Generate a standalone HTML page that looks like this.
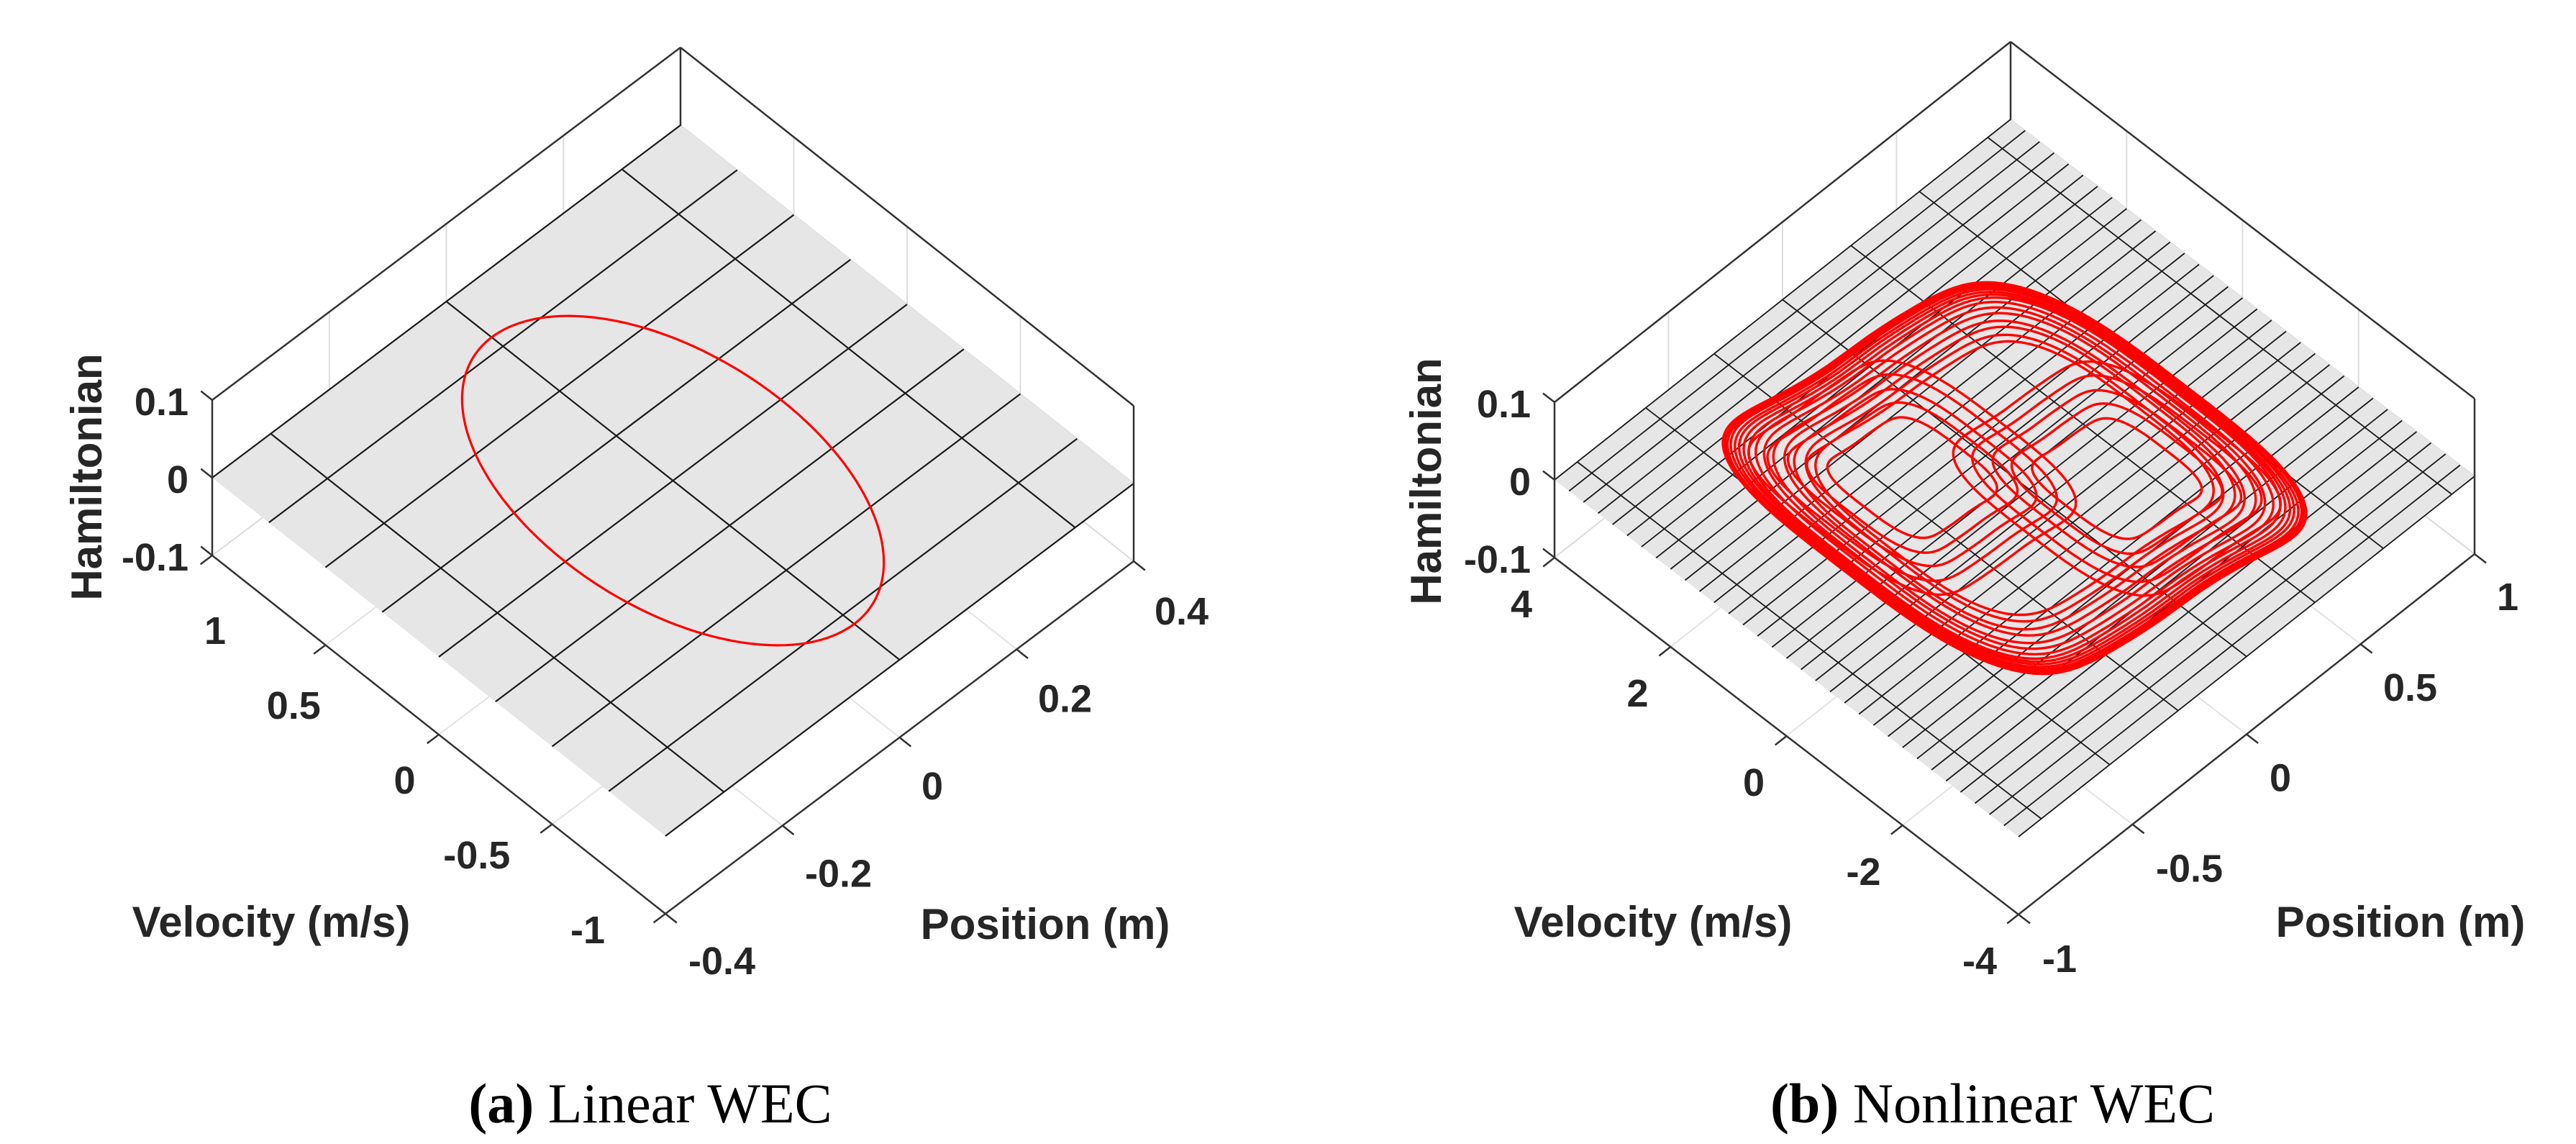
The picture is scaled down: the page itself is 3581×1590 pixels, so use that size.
<!DOCTYPE html>
<html><head><meta charset="utf-8"><style>
html,body{margin:0;padding:0;background:#fff;}
svg{display:block;}
.tk{font-family:"Liberation Sans",Arial,sans-serif;font-weight:bold;font-size:54px;fill:#262626;}
.al{font-family:"Liberation Sans",Arial,sans-serif;font-weight:bold;font-size:60px;fill:#262626;}
.cap{font-family:"Liberation Serif",serif;font-size:78px;fill:#000;}
</style></head><body>
<svg id="fig" width="3581" height="1590" viewBox="0 0 3581 1590" xmlns="http://www.w3.org/2000/svg">
<g id="pa"></g>
<g id="pb"></g>
<text class="cap" x="904" y="1560" text-anchor="middle"><tspan font-weight="bold">(a)</tspan> Linear WEC</text>
<text class="cap" x="2770" y="1560" text-anchor="middle"><tspan font-weight="bold">(b)</tspan> Nonlinear WEC</text>
</svg>
<script>
// ---- data: linear plot ----
const aPosTicks=[-0.4,-0.2,0,0.2,0.4];
const aVelTicks=[-1,-0.5,0,0.5,1];
const aHamTicks=[-0.1,0,0.1];
const aMeshP=[-0.3,0,0.3];
const aMeshV=[-1,-0.75,-0.5,-0.25,0,0.25,0.5,0.75,1];
const aOrbitPosAmp=[0.184];
const aOrbitVelAmp=[0.80];
// ---- data: nonlinear plot ----
const bPosTicks=[-1,-0.5,0,0.5,1];
const bVelTicks=[-4,-2,0,2,4];
const bHamTicks=[-0.1,0,0.1];
const bMeshP=[-0.9,-0.6,-0.3,0,0.3,0.6,0.9];
const bMeshV=[-4,-3.75,-3.5,-3.25,-3,-2.75,-2.5,-2.25,-2,-1.75,-1.5,-1.25,-1,-0.75,-0.5,-0.25,0,0.25,0.5,0.75,1,1.25,1.5,1.75,2,2.25,2.5,2.75,3,3.25,3.5,3.75,4];
const bLoopCenterP=[0,0,0,0,0,0,0,0,0,0,0,0,0,0,0,0.22,0.22,0.22,0.22,0.22,-0.22,-0.22,-0.22,-0.22,-0.22];
const bLoopCenterV=[0,0,0,0,0,0,0,0,0,0,0,0,0,0,0,-0.9,-0.9,-0.9,-0.9,-0.9,0.9,0.9,0.9,0.9,0.9];
const bLoopPosAmp=[0.76,0.755,0.75,0.74,0.73,0.72,0.71,0.70,0.68,0.66,0.64,0.61,0.59,0.56,0.54,0.39,0.35,0.3,0.26,0.21,0.39,0.35,0.3,0.26,0.21];
const bLoopVelAmp=[3.25,3.22,3.19,3.16,3.11,3.06,3.0,2.93,2.86,2.76,2.64,2.52,2.39,2.26,2.13,1.97,1.72,1.48,1.23,0.99,1.97,1.72,1.48,1.23,0.99];
const bLoopHam=[-0.06,-0.059,-0.058,-0.057,-0.055,-0.054,-0.052,-0.05,-0.048,-0.046,-0.043,-0.041,-0.038,-0.036,-0.034,-0.02,-0.018,-0.016,-0.013,-0.011,-0.02,-0.018,-0.016,-0.013,-0.011];

const NS='http://www.w3.org/2000/svg';
function mk(parent,tag,attrs){const e=document.createElementNS(NS,tag);for(const k in attrs)e.setAttribute(k,attrs[k]);parent.appendChild(e);return e;}
function fmt(v){return v<0?'-'+String(Math.abs(v)):String(v);}

function plot(g,cfg){
  const P=(p,v,z)=>{const fp=(p-cfg.pmin)/(cfg.pmax-cfg.pmin),fv=(v-cfg.vmin)/(cfg.vmax-cfg.vmin),fz=(z-cfg.zmin)/(cfg.zmax-cfg.zmin);
    return [cfg.B[0]+fp*(cfg.R[0]-cfg.B[0])+fv*(cfg.L[0]-cfg.B[0]), cfg.B[1]+fp*(cfg.R[1]-cfg.B[1])+fv*(cfg.L[1]-cfg.B[1])-fz*cfg.H];};
  const line=(a,b,st,w,name)=>{const l=mk(g,'line',{x1:a[0].toFixed(1),y1:a[1].toFixed(1),x2:b[0].toFixed(1),y2:b[1].toFixed(1),stroke:st,'stroke-width':w});
    
    return l;};
  const {pmin,pmax,vmin,vmax,zmin,zmax}=cfg;
  cfg.pt.forEach(p=>line(P(p,vmin,zmin),P(p,vmax,zmin),'#e3e3e3',2,'floor-grid-p'));
  cfg.vt.forEach(v=>line(P(pmin,v,zmin),P(pmax,v,zmin),'#e3e3e3',2,'floor-grid-v'));
  cfg.pt.forEach(p=>line(P(p,vmax,zmin),P(p,vmax,zmax),'#dddddd',2,'wall-grid-p'));
  cfg.vt.forEach(v=>line(P(pmax,v,zmin),P(pmax,v,zmax),'#dddddd',2,'wall-grid-v'));
  cfg.zt.forEach(z=>{line(P(pmin,vmax,z),P(pmax,vmax,z),'#dddddd',2,'wall-grid-z');line(P(pmax,vmax,z),P(pmax,vmin,z),'#dddddd',2,'wall-grid-z');});
  const ec='#333';
  line(P(pmin,vmax,zmax),P(pmax,vmax,zmax),ec,2.5,'box-edge');
  line(P(pmax,vmax,zmax),P(pmax,vmin,zmax),ec,2.5,'box-edge');
  line(P(pmax,vmax,zmin),P(pmax,vmax,zmax),ec,2.5,'box-edge');
  const c=[P(pmin,vmin,0),P(pmax,vmin,0),P(pmax,vmax,0),P(pmin,vmax,0)];
  const poly=mk(g,'polygon',{points:c.map(q=>q[0].toFixed(1)+','+q[1].toFixed(1)).join(' '),fill:'#e6e6e6'});
  
  
  cfg.meshP.forEach(p=>line(P(p,vmin,0),P(p,vmax,0),'#1a1a1a',cfg.mw,'plane-mesh-p'));
  cfg.meshV.forEach(v=>line(P(pmin,v,0),P(pmax,v,0),'#1a1a1a',cfg.mw,'plane-mesh-v'));
  cfg.loops.forEach((L,i)=>{
    const pts=[];
    for(let k=0;k<=240;k++){const t=k/240*2*Math.PI;const ct=Math.cos(t),st=Math.sin(t);
      const sp=Math.sign(ct)*Math.pow(Math.abs(ct),L.e),sv=Math.sign(st)*Math.pow(Math.abs(st),L.e);
      const p=L.cp+L.a*sp;const v=L.cv-L.b*sv*(1-L.d*Math.pow(Math.abs(st),6));const z=L.h*ct;
      const q=P(p,v,z);pts.push(q[0].toFixed(1)+','+q[1].toFixed(1));}
    const pl=mk(g,'polyline',{points:pts.join(' '),fill:'none',stroke:'#ff0000','stroke-width':cfg.ow,'stroke-linejoin':'round'});
    
    
  });
  line(P(pmin,vmax,zmin),P(pmin,vmax,zmax),ec,2.5,'z-axis-line');
  line(P(pmax,vmin,zmin),P(pmax,vmin,zmax),ec,2.5,'box-edge');
  line(P(pmin,vmax,zmin),P(pmin,vmin,zmin),ec,2.5,'velocity-axis-line');
  line(P(pmin,vmin,zmin),P(pmax,vmin,zmin),ec,2.5,'position-axis-line');
  const dp=(pmax-pmin)*0.025,dv=(vmax-vmin)*0.025;
  cfg.vt.forEach(v=>line(P(pmin,v,zmin),P(pmin-dp,v,zmin),ec,2.5,'velocity-tick'));
  cfg.pt.forEach(p=>line(P(p,vmin,zmin),P(p,vmin-dv,zmin),ec,2.5,'position-tick'));
  cfg.zt.forEach(z=>line(P(pmin,vmax,z),P(pmin,vmax+dv,z),ec,2.5,'z-tick'));
  const txt=(s,x,y,anchor,cls,name)=>{const t=mk(g,'text',{x:x.toFixed(1),y:y.toFixed(1),'text-anchor':anchor,class:cls});t.textContent=s;
    
    return t;};
  cfg.vt.forEach(v=>{const f=(vmax-v)/(vmax-vmin);const x=cfg.vl0[0]+f*(cfg.vl1[0]-cfg.vl0[0]),y=cfg.vl0[1]+f*(cfg.vl1[1]-cfg.vl0[1]);txt(fmt(v),x,y+19,'end','tk','velocity-tick-label');});
  cfg.pt.forEach(p=>{const f=(p-pmin)/(pmax-pmin);const x=cfg.pl0[0]+f*(cfg.pl1[0]-cfg.pl0[0]),y=cfg.pl0[1]+f*(cfg.pl1[1]-cfg.pl0[1]);txt(fmt(p),x,y+19,'start','tk','position-tick-label');});
  cfg.zt.forEach(z=>{const q=P(pmin,vmax,z);txt(fmt(z),cfg.zx,q[1]-(cfg.zlOff)+19,'end','tk','hamiltonian-tick-label');});
  txt('Velocity (m/s)',cfg.vlab[0],cfg.vlab[1]+21,'middle','al','velocity-axis-title');
  txt('Position (m)',cfg.plab[0],cfg.plab[1]+21,'middle','al','position-axis-title');
  const h=txt('Hamiltonian',0,0,'middle','al','hamiltonian-axis-title');
  h.setAttribute('transform','translate('+(cfg.hlab[0]+21)+','+cfg.hlab[1]+') rotate(-90)');
}

function loopsFrom(CP,CV,A,Bv,Hs,e,d){return A.map((a,i)=>({cp:CP[i],cv:CV[i],a:a,b:Bv[i],h:Hs[i],e:e,d:d}));}

plot(document.getElementById('pa'),{B:[925,1270],L:[295,772],R:[1576,780],H:216,pmin:-0.4,pmax:0.4,vmin:-1,vmax:1,zmin:-0.1,zmax:0.1,
  pt:aPosTicks,vt:aVelTicks,zt:aHamTicks,meshP:aMeshP,meshV:aMeshV,mw:2.2,ow:3.2,
  loops:loopsFrom([0],[0],aOrbitPosAmp,aOrbitVelAmp,[0],1,0),
  vl0:[314,876],vl1:[841,1292],pl0:[957,1335],pl1:[1605,849],zx:262,zlOff:-2,
  vlab:[377,1281],plab:[1453,1284],hlab:[120,663]});

plot(document.getElementById('pb'),{B:[2806,1271],L:[2161,775],R:[3440,770],H:216,pmin:-1,pmax:1,vmin:-4,vmax:4,zmin:-0.1,zmax:0.1,
  pt:bPosTicks,vt:bVelTicks,zt:bHamTicks,meshP:bMeshP,meshV:bMeshV,mw:1.8,ow:3.4,
  loops:loopsFrom(bLoopCenterP,bLoopCenterV,bLoopPosAmp,bLoopVelAmp,bLoopHam,0.6,0.12),
  vl0:[2130,839],vl1:[2776,1335],pl0:[2839,1332],pl1:[3471,829],zx:2128,zlOff:-2,
  vlab:[2298,1281],plab:[3337,1281],hlab:[1982,669]});
</script>
</body></html>
